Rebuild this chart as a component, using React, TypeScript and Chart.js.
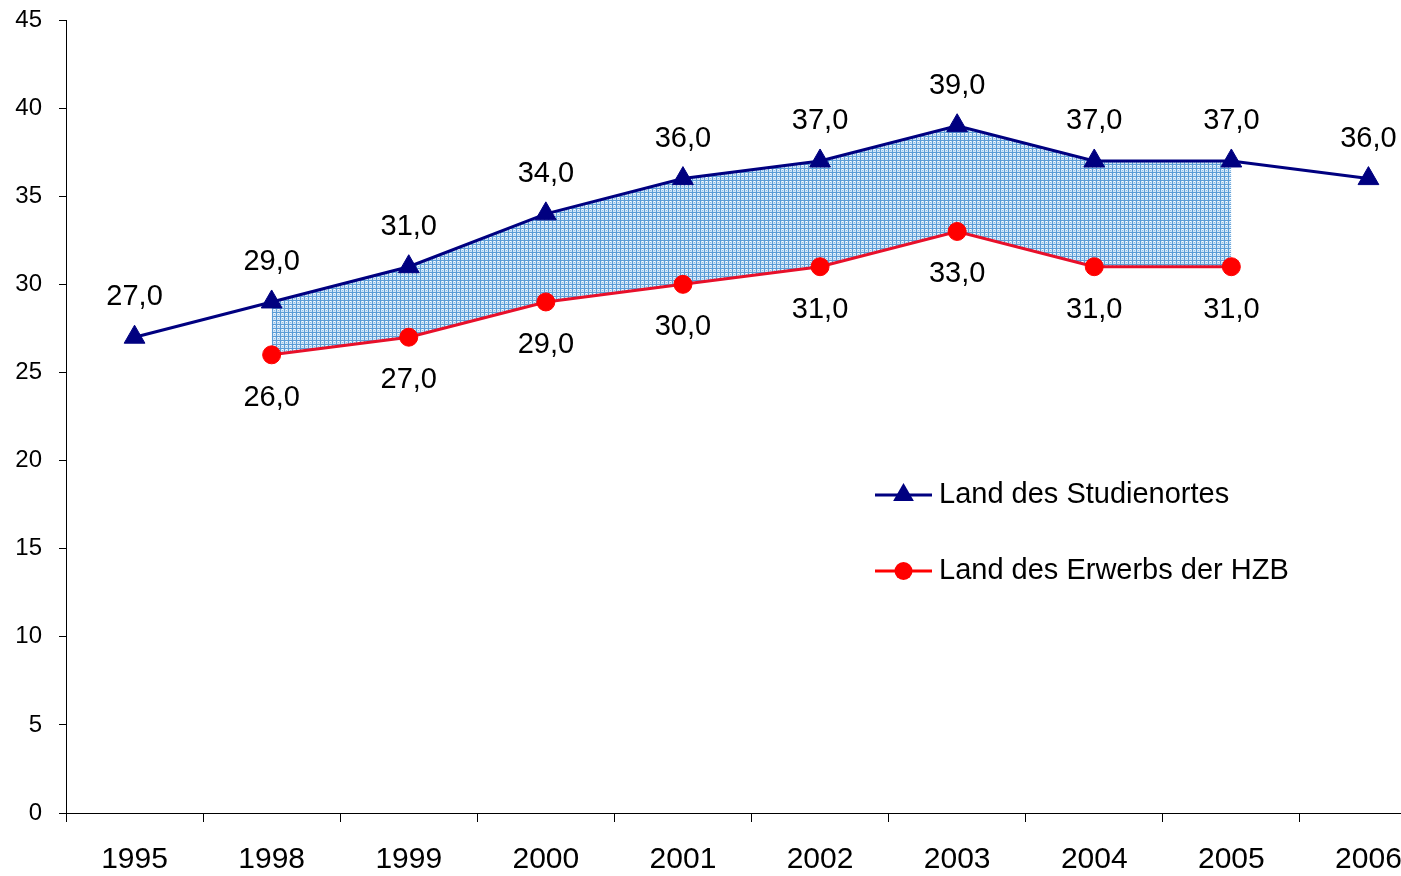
import React, { useEffect, useRef } from "react";
import { Chart, registerables } from "chart.js";

Chart.register(...registerables);

const categories = ["1995", "1998", "1999", "2000", "2001", "2002", "2003", "2004", "2005", "2006"];
const studienortValues: (number | null)[] = [27, 29, 31, 34, 36, 37, 39, 37, 37, 36];
const hzbValues: (number | null)[] = [null, 26, 27, 29, 30, 31, 33, 31, 31, null];
const bandUpperValues: (number | null)[] = [null, 29, 31, 34, 36, 37, 39, 37, 37, null];
const seriesNames = ["Land des Studienortes", "Land des Erwerbs der HZB"];

const FONT = '"Liberation Sans", Arial, sans-serif';
const NAVY = "#000080";
const RED = "#FF0000";

function makePattern(): CanvasPattern | string {
  const c = document.createElement("canvas");
  c.width = 4;
  c.height = 4;
  const g = c.getContext("2d");
  if (!g) return "#a8cdee";
  g.fillStyle = "#cfe4f6";
  g.fillRect(0, 0, 4, 4);
  g.fillStyle = "#5a9cd6";
  g.fillRect(0, 0, 4, 1);
  g.fillRect(0, 0, 1, 4);
  g.fillStyle = "#8dbde6";
  g.fillRect(2, 2, 1, 1);
  g.fillStyle = "#ffffff";
  g.fillRect(2, 1, 1, 1);
  const p = g.createPattern(c, "repeat");
  return p || "#a8cdee";
}

const fmt = (v: number) => v.toFixed(1).replace(".", ",");

const labelPlugin = {
  id: "valueLabels",
  afterDatasetsDraw(chart: any) {
    const ctx = chart.ctx;
    ctx.save();
    ctx.fillStyle = "#000";
    ctx.font = `29px ${FONT}`;
    ctx.textAlign = "center";
    ctx.textBaseline = "middle";
    const m1 = chart.getDatasetMeta(1);
    m1.data.forEach((pt: any, i: number) => {
      const v = studienortValues[i];
      if (v == null) return;
      ctx.fillText(fmt(v), pt.x, pt.y - 40);
    });
    const m2 = chart.getDatasetMeta(2);
    m2.data.forEach((pt: any, i: number) => {
      const v = hzbValues[i];
      if (v == null) return;
      ctx.fillText(fmt(v), pt.x, pt.y + 43);
    });

    // legend
    const lx = 875;
    const lw = 57;
    const rows = [495, 571];
    rows.forEach((y, k) => {
      ctx.lineWidth = 3;
      ctx.strokeStyle = k === 0 ? NAVY : RED;
      ctx.beginPath();
      ctx.moveTo(lx, y);
      ctx.lineTo(lx + lw, y);
      ctx.stroke();
      const cx = lx + lw / 2;
      ctx.fillStyle = k === 0 ? NAVY : RED;
      ctx.beginPath();
      if (k === 0) {
        const r = 12;
        ctx.moveTo(cx, y - r);
        ctx.lineTo(cx + r * 0.866, y + r / 2);
        ctx.lineTo(cx - r * 0.866, y + r / 2);
        ctx.closePath();
      } else {
        ctx.arc(cx, y, 9, 0, Math.PI * 2);
      }
      ctx.fill();
      ctx.fillStyle = "#000";
      ctx.textAlign = "left";
      ctx.font = `29px ${FONT}`;
      ctx.fillText(seriesNames[k], 939, y);
    });
    ctx.restore();
  },
};

export default function App() {
  const ref = useRef<HTMLCanvasElement | null>(null);

  useEffect(() => {
    if (!ref.current) return;
    const pattern = makePattern();
    const chart = new Chart(ref.current, {
      type: "line",
      data: {
        labels: categories,
        datasets: [
          {
            label: "band",
            data: bandUpperValues,
            borderWidth: 0,
            borderColor: "rgba(0,0,0,0)",
            pointRadius: 0,
            pointHoverRadius: 0,
            backgroundColor: pattern as any,
            fill: 2,
            tension: 0,
          },
          {
            label: seriesNames[0],
            data: studienortValues,
            borderColor: NAVY,
            backgroundColor: NAVY,
            borderWidth: 3,
            pointStyle: "triangle",
            pointRadius: 12,
            pointBorderWidth: 1,
            pointBorderColor: NAVY,
            pointBackgroundColor: NAVY,
            fill: false,
            tension: 0,
          },
          {
            label: seriesNames[1],
            data: hzbValues,
            borderColor: "#E8102A",
            backgroundColor: RED,
            borderWidth: 3,
            pointStyle: "circle",
            pointRadius: 9,
            pointBorderWidth: 1,
            pointBorderColor: RED,
            pointBackgroundColor: RED,
            fill: false,
            tension: 0,
          },
        ],
      },
      options: {
        animation: false,
        responsive: false,
        layout: { padding: { top: 20, right: 3, left: 0, bottom: 0 } },
        plugins: {
          legend: { display: false },
          tooltip: { enabled: false },
          filler: { drawTime: "beforeDatasetsDraw" } as any,
        },
        scales: {
          x: {
            type: "category",
            offset: true,
            grid: {
              offset: true,
              drawOnChartArea: false,
              drawTicks: true,
              tickLength: 9,
              color: "#000",
            },
            border: { display: true, color: "#000", width: 1 },
            ticks: {
              color: "#000",
              font: { family: FONT, size: 30 },
              padding: 20,
              maxRotation: 0,
              autoSkip: false,
            },
            afterFit: (s: any) => {
              s.height = 63;
              s.paddingLeft = 0;
              s.paddingRight = 0;
            },
          },
          y: {
            min: 0,
            max: 45,
            grid: {
              drawOnChartArea: false,
              drawTicks: true,
              tickLength: 7,
              color: "#000",
            },
            border: { display: true, color: "#000", width: 1 },
            ticks: {
              stepSize: 5,
              color: "#000",
              font: { family: FONT, size: 24 },
              padding: 17,
            },
            afterFit: (s: any) => {
              s.width = 66;
              s.paddingTop = 0;
              s.paddingBottom = 0;
            },
          },
        },
      },
      plugins: [labelPlugin],
    });
    return () => chart.destroy();
  }, []);

  return (
    <div
      style={{
        position: "fixed",
        left: 0,
        top: 0,
        width: 1401,
        height: 876,
        overflow: "hidden",
        background: "#fff",
      }}
    >
      <canvas ref={ref} width={1450} height={876} style={{ display: "block", width: 1450, height: 876 }} />
    </div>
  );
}
